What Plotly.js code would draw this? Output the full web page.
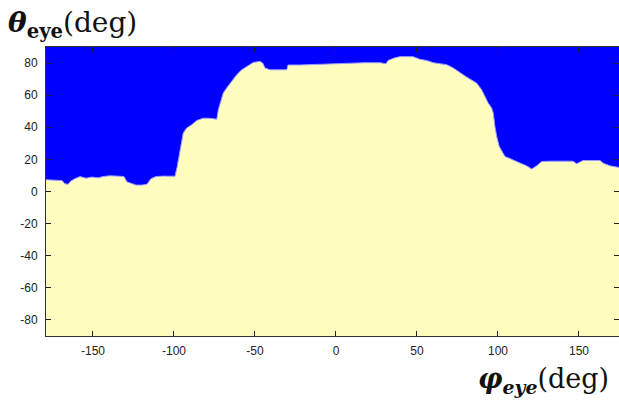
<!DOCTYPE html>
<html>
<head>
<meta charset="utf-8">
<script src="https://cdn.plot.ly/plotly-3.0.1.min.js"></script>
<style>html,body{margin:0;padding:0;background:#fff;}#chart{width:619px;height:403px;}</style>
</head>
<body>
<div id="chart"></div>
<script>
// Boundary of the visible region: azimuth phi (deg) and elevation theta (deg)
const phi = [-179, -173.5, -169.1, -167.3, -165.4, -163.6, -161.1, -158, -154.3, -150.6,
  -146.9, -143.8, -139.5, -135.2, -130.9, -129, -126.5, -123.5, -119.8, -116.7,
  -114.2, -111.1, -106.8, -102.5, -100, -99.4, -98.1, -96.3, -94.3, -92.2,
  -89.1, -86, -81.9, -77.8, -73.6, -72.6, -71.6, -69.6, -67.5, -64.4,
  -61.3, -58.2, -55.1, -51, -46.9, -45.2, -43.8, -40.7, -30.4, -29.6,
  -22.2, -9.9, 2.5, 6.8, 17.9, 27.2, 30.9, 32.1, 36.4, 39.5,
  47.5, 51.9, 56, 60.1, 64.2, 68.3, 72.4, 76.5, 79.6, 82.7,
  86.9, 89.9, 92, 94, 96.1, 97.1, 98.1, 99.2, 100.8, 102.3,
  104.3, 107.4, 110.5, 113.6, 117.7, 120.8, 123.9, 127, 132.1, 138.3,
  146.3, 148.6, 152.5, 163, 164.8, 169.1, 174.7];
const theta = [7.3, 7, 6.8, 4.8, 4.5, 6.5, 8, 9.3, 8.3, 9,
  8.5, 9.3, 9.8, 9.6, 9.3, 6, 5.2, 4, 4, 4.5,
  8, 9.3, 9.6, 9.3, 9.5, 9.5, 15, 26, 36.4, 39.5,
  41.5, 44.2, 45.7, 45.6, 45, 51, 55, 61.3, 64.4, 68.5,
  72.7, 75.8, 77.9, 80.4, 81, 80, 76.9, 75.8, 75.8, 78.8,
  78.8, 79.2, 79.6, 80.2, 80.2, 80.2, 79.6, 81.6, 83.3, 84,
  84, 82.3, 81.6, 80.2, 79.5, 79, 76.9, 73.8, 72, 70,
  67.5, 63.4, 59.2, 55, 52, 48.8, 40.5, 34.3, 28, 24.9,
  21.8, 20.5, 19.3, 17.7, 16, 14, 16, 18.7, 18.9, 19,
  18.9, 17.3, 19.3, 19.3, 17.7, 16, 15];

const xTicks = [-150, -100, -50, 0, 50, 100, 150];
const yTicks = [-80, -60, -40, -20, 0, 20, 40, 60, 80];
const xRange = [-179, 174.7];
const yRange = [-90, 90];

const yellow = '#fffcc0';
const blue = '#0000fe';

const baseline = phi.map(() => yRange[0]);

const traces = [
  {x: phi, y: baseline, type: 'scatter', mode: 'lines', line: {width: 0, color: yellow}, hoverinfo: 'skip', showlegend: false},
  {x: phi, y: theta, type: 'scatter', mode: 'lines', fill: 'tonexty', fillcolor: yellow,
   line: {width: 1, color: '#9a9aff'}, showlegend: false}
];

const tickFont = {family: 'Liberation Sans Narrow, Liberation Sans, Arial', size: 12, color: '#222'};

const layout = {
  width: 619, height: 403,
  margin: {l: 46, r: 0, t: 47, b: 67, pad: 0},
  paper_bgcolor: '#ffffff',
  plot_bgcolor: blue,
  showlegend: false,
  xaxis: {range: xRange, tickvals: xTicks, ticktext: xTicks.map(String),
    showgrid: false, zeroline: false, showline: true, linecolor: '#333', linewidth: 1,
    mirror: 'ticks', ticks: 'inside', ticklen: 5, tickcolor: '#222',
    tickfont: tickFont, ticklabelstandoff: 4},
  yaxis: {range: yRange, tickvals: yTicks, ticktext: yTicks.map(String),
    showgrid: false, zeroline: false, showline: true, linecolor: '#333', linewidth: 1,
    mirror: 'ticks', ticks: 'inside', ticklen: 5, tickcolor: '#222',
    tickfont: tickFont, ticklabelstandoff: 5},
  annotations: [
    {text: '<b><i>θ</i></b><sub><b>eye</b></sub>(deg)', xref: 'paper', yref: 'paper',
     x: 0, y: 1, xanchor: 'left', yanchor: 'bottom', xshift: -40, yshift: 2, showarrow: false,
     font: {family: 'DejaVu Serif, Liberation Serif, serif', size: 28, color: '#111'}},
    {text: '<b><i>φ</i></b><sub><b><i>eye</i></b></sub>(deg)', xref: 'paper', yref: 'paper',
     x: 1, y: 0, xanchor: 'right', yanchor: 'top', xshift: -8, yshift: -25, showarrow: false,
     font: {family: 'DejaVu Serif, Liberation Serif, serif', size: 27, color: '#111'}}
  ]
};

Plotly.newPlot('chart', traces, layout, {staticPlot: true, displayModeBar: false});
</script>
</body>
</html>
